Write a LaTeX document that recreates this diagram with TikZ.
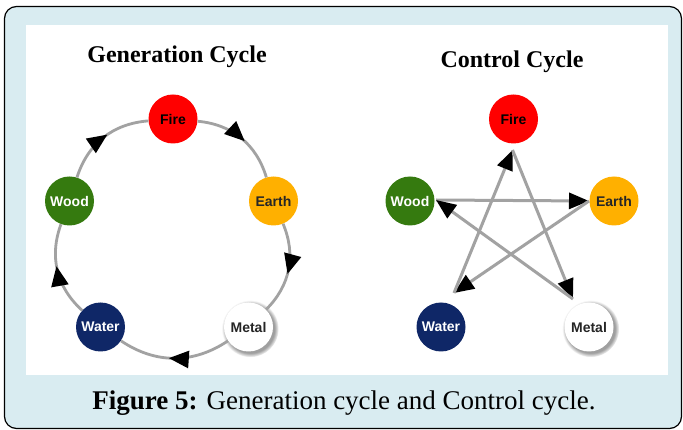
\documentclass[tikz,border=0pt]{standalone}
\usepackage{fontspec}
\setmainfont{Liberation Serif}
\newfontfamily\labelfont{Liberation Sans}
\usetikzlibrary{arrows.meta,decorations.markings,shadows,calc}

\definecolor{framebg}{HTML}{D9ECF1}
\definecolor{linegray}{HTML}{A2A2A2}
\definecolor{firered}{HTML}{FF0000}
\definecolor{earthorange}{HTML}{FFB000}
\definecolor{woodgreen}{HTML}{357A0F}
\definecolor{waterblue}{HTML}{0F2767}

\begin{document}
\begin{tikzpicture}[x=1pt,y=-1pt,
  element/.style={circle, minimum size=49pt, inner sep=0pt,
    font=\labelfont\bfseries\fontsize{14}{14}\selectfont},
  heading/.style={font=\bfseries\fontsize{24}{24}\selectfont},
  captiontext/.style={font=\fontsize{27}{27}\selectfont},
  cycarc/.style={draw=linegray, line width=2.8pt, postaction={decorate},
    decoration={markings, mark=at position 0.55 with {\arrow{Triangle[length=20pt,width=17pt,color=black]}}}},
  stararrow/.style={draw=linegray, line width=3pt, -{Triangle[length=20pt,width=16pt,color=black]}},
  metalshadow/.style={circular drop shadow={shadow xshift=1.5pt, shadow yshift=-1.5pt,
    shadow scale=1.16, opacity=0.75}}
]
\useasboundingbox (0,0) rectangle (683,430);

% frame and white panel
\draw[fill=framebg, rounded corners=12pt, line width=1.2pt] (4.5,6.5) rectangle (681.5,428.5);
\fill[white] (26,25) rectangle (668,375);

% headings and caption
\node[heading] (gentitle) at (177,57) {Generation Cycle};
\node[heading] (contitle) at (512,62) {Control Cycle};
\node[captiontext] (caption) at (344,403) {\textbf{Figure 5:} Generation cycle and Control cycle.};

% generation cycle elements
\node[element, fill=firered, text=black] (gfire) at (173,119) {Fire};
\node[element, fill=earthorange, text=black!85] (gearth) at (273.5,201) {Earth};
\node[element, fill=white, metalshadow, text=black!85] (gmetal) at (248.5,327) {Metal};
\node[element, fill=waterblue, text=white] (gwater) at (100.5,327) {Water};
\node[element, fill=woodgreen, text=white] (gwood) at (69.5,201) {Wood};

\draw[cycarc] (gfire) to[bend left=34] (gearth);
\draw[cycarc] (gearth) to[bend left=34] (gmetal);
\draw[cycarc] (gmetal) to[bend left=34] (gwater);
\draw[cycarc] (gwater) to[bend left=34] (gwood);
\draw[cycarc] (gwood) to[bend left=34] (gfire);

% control cycle elements
\node[element, fill=firered, text=black] (cfire) at (513.5,119) {Fire};
\node[element, fill=earthorange, text=black!85] (cearth) at (614,201) {Earth};
\node[element, fill=white, metalshadow, text=black!85] (cmetal) at (589,327) {Metal};
\node[element, fill=waterblue, text=white] (cwater) at (441,327) {Water};
\node[element, fill=woodgreen, text=white] (cwood) at (410,201) {Wood};

% star points next to each element
\coordinate (sfire) at ($(cfire.center)+(-1,31)$);
\coordinate (searth) at ($(cearth.center)+(-25,0)$);
\coordinate (smetal) at ($(cmetal.center)+(-16,-28)$);
\coordinate (swater) at ($(cwater.center)+(13,-34)$);
\coordinate (swood) at ($(cwood.center)+(26,-1)$);

\draw[stararrow] (swood) -- (searth);
\draw[stararrow] (searth) -- (swater);
\draw[stararrow] (swater) -- (sfire);
\draw[stararrow] (sfire) -- (smetal);
\draw[stararrow] (smetal) -- (swood);
\end{tikzpicture}
\end{document}
